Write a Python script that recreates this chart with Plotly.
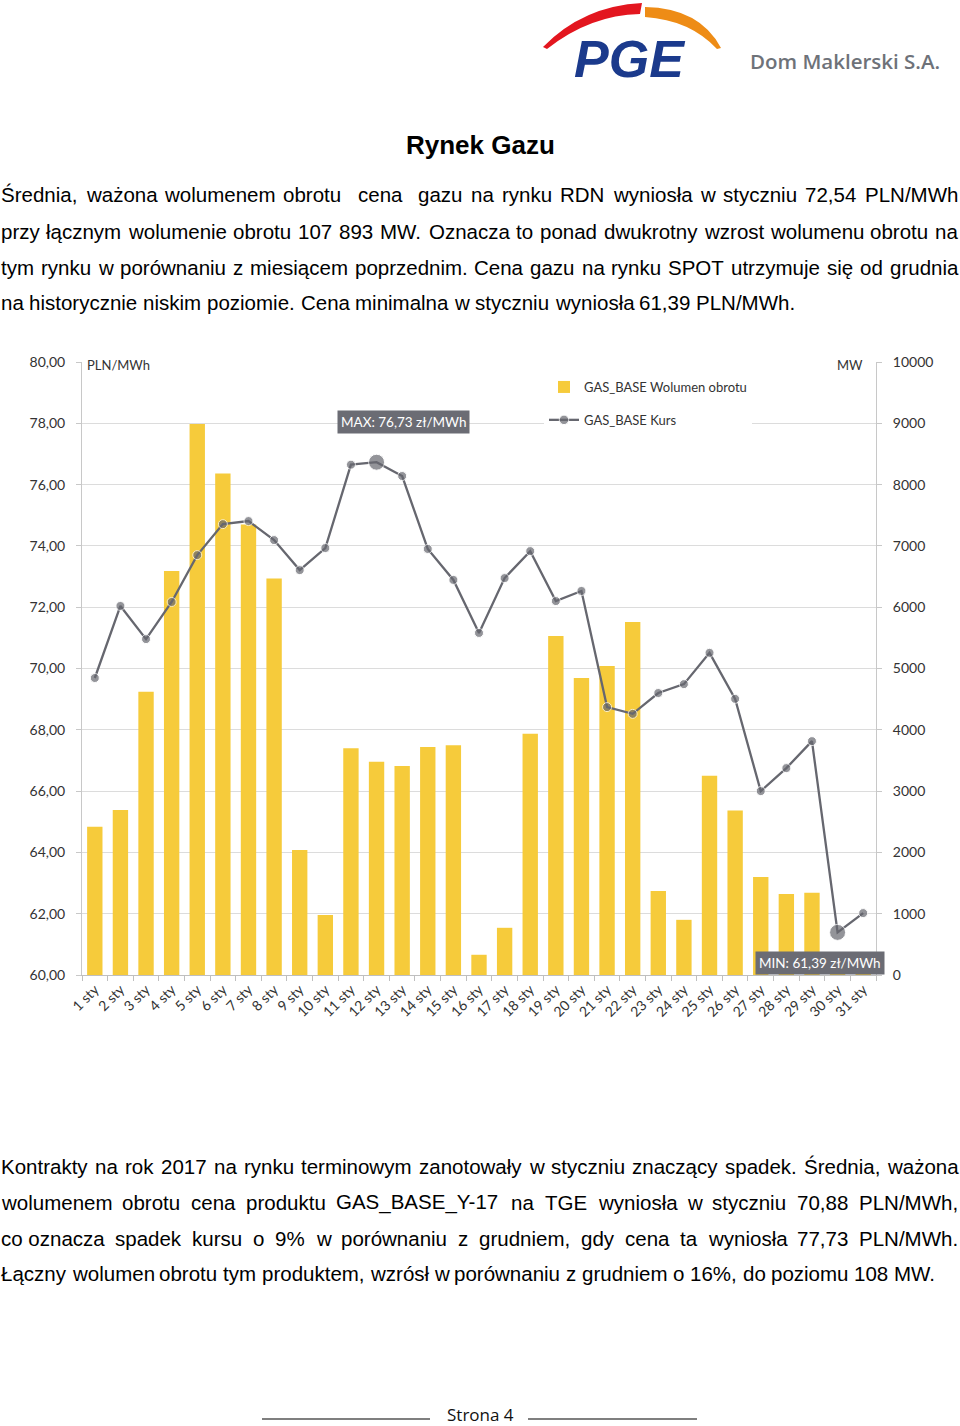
import plotly.graph_objects as go

# ---------------- data ----------------
days = ["1 sty", "2 sty", "3 sty", "4 sty", "5 sty", "6 sty", "7 sty", "8 sty", "9 sty", "10 sty",
        "11 sty", "12 sty", "13 sty", "14 sty", "15 sty", "16 sty", "17 sty", "18 sty", "19 sty", "20 sty",
        "21 sty", "22 sty", "23 sty", "24 sty", "25 sty", "26 sty", "27 sty", "28 sty", "29 sty", "30 sty",
        "31 sty"]
volume_mw = [2420, 2690, 4620, 6590, 8990, 8180, 7350, 6470, 2040, 980,
             3700, 3480, 3410, 3720, 3750, 330, 770, 3935, 5530, 4845,
             5040, 5760, 1370, 900, 3250, 2685, 1600, 1320, 1340, 300, 250]
price_pln = [69.69, 72.04, 70.96, 72.17, 73.70, 74.71, 74.81, 74.19, 73.21, 73.93,
             76.65, 76.73, 76.28, 73.90, 72.89, 71.16, 72.95, 73.83, 72.20, 72.53,
             68.74, 68.52, 69.20, 69.49, 70.51, 69.01, 66.00, 66.75, 67.63, 61.39, 62.02]
left_ticks = [60, 62, 64, 66, 68, 70, 72, 74, 76, 78, 80]
right_ticks = [0, 1000, 2000, 3000, 4000, 5000, 6000, 7000, 8000, 9000, 10000]

title_text = "Rynek Gazu"
para1 = [
    "Średnia, ważona wolumenem obrotu  cena  gazu na rynku RDN wyniosła w styczniu 72,54 PLN/MWh",
    "przy łącznym wolumenie obrotu 107 893 MW. Oznacza to ponad dwukrotny wzrost wolumenu obrotu na",
    "tym rynku w porównaniu z miesiącem poprzednim. Cena gazu na rynku SPOT utrzymuje się od grudnia",
    "na historycznie niskim poziomie. Cena minimalna w styczniu wyniosła 61,39 PLN/MWh.",
]
para2 = [
    "Kontrakty na rok 2017 na rynku terminowym zanotowały w styczniu znaczący spadek. Średnia, ważona",
    "wolumenem obrotu cena produktu GAS_BASE_Y-17 na TGE wyniosła w styczniu 70,88 PLN/MWh,",
    "co\u00a0oznacza spadek kursu o 9% w porównaniu z grudniem, gdy cena ta wyniosła 77,73 PLN/MWh.",
    "Łączny wolumen obrotu tym produktem, wzrósł w porównaniu z grudniem o 16%, do poziomu 108 MW.",
]

# ---------------- geometry helpers ----------------
W, H = 960, 1426
PL, PR, PT, PB = 82, 876, 362, 975  # plot area in pixels


def px(x):
    return (x - PL) / (PR - PL)


def py(y):
    return (PB - y) / (PB - PT)


def path(cmds):
    out = []
    for c in cmds:
        op, *pts = c
        s = op
        for i in range(0, len(pts), 2):
            s += f" {px(pts[i]):.5f},{py(pts[i+1]):.5f}"
        out.append(s)
    return " ".join(out) + " Z"


# Arial / Liberation Sans advance widths (per 1000 em)
AW = {' ': 278, '\u00a0': 278, ',': 278, '.': 278, '-': 333, '/': 278, '%': 889, '_': 556, ':': 278,
      'A': 667, 'B': 667, 'C': 722, 'D': 722, 'E': 667, 'F': 611, 'G': 778, 'H': 722, 'I': 278,
      'J': 500, 'K': 667, 'L': 556, 'M': 833, 'N': 722, 'O': 778, 'P': 667, 'Q': 778, 'R': 722,
      'S': 667, 'T': 611, 'U': 722, 'V': 667, 'W': 944, 'X': 667, 'Y': 667, 'Z': 611,
      'a': 556, 'b': 556, 'c': 500, 'd': 556, 'e': 556, 'f': 278, 'g': 556, 'h': 556, 'i': 222,
      'j': 222, 'k': 500, 'l': 222, 'm': 833, 'n': 556, 'o': 556, 'p': 556, 'q': 556, 'r': 333,
      's': 500, 't': 278, 'u': 556, 'v': 500, 'w': 722, 'x': 500, 'y': 500, 'z': 500,
      'ą': 556, 'ć': 500, 'ę': 556, 'ł': 222, 'ń': 556, 'ó': 556, 'ś': 500, 'ź': 500, 'ż': 500,
      'Ł': 556, 'Ś': 667, 'Ż': 611}
FS = 20.5
TXT_FONT = dict(family="Liberation Sans, Arial", size=FS, color="#000000")


def tw(s):
    return sum(AW.get(ch, 556) for ch in s) * FS / 1000


annotations = []


def add_line(line, y, justify, left=1, right=958):
    toks = line.split(' ')
    widths = [tw(t) for t in toks]
    nsp = len(toks) - 1
    gap = (right - left - sum(widths)) / nsp if justify else AW[' '] * FS / 1000
    x = float(left)
    for t, w in zip(toks, widths):
        if t:
            annotations.append(dict(xref="paper", yref="paper", x=px(x), y=py(y), text=t,
                                    xanchor="left", yanchor="middle", showarrow=False,
                                    borderpad=0, borderwidth=0, font=TXT_FONT))
        x += w + gap


for i, (ln, yy) in enumerate(zip(para1, [195, 231, 267, 302])):
    add_line(ln, yy, i < 3)
for i, (ln, yy) in enumerate(zip(para2, [1166, 1202, 1238, 1273])):
    add_line(ln, yy, i < 3)

# title
annotations.append(dict(xref="paper", yref="paper", x=px(480), y=py(145), text="<b>" + title_text + "</b>",
                        showarrow=False, xanchor="center", yanchor="middle",
                        font=dict(family="Liberation Sans, Arial", size=26, color="#000000")))

# logo text
annotations.append(dict(xref="paper", yref="paper", x=px(629), y=py(59), text="<b><i>PGE</i></b>",
                        showarrow=False, xanchor="center", yanchor="middle",
                        font=dict(family="Liberation Sans, Arial", size=52, color="#1B3A8C")))
annotations.append(dict(xref="paper", yref="paper", x=px(845), y=py(61), text="Dom Maklerski S.A.",
                        showarrow=False, xanchor="center", yanchor="middle",
                        font=dict(family="Open Sans", size=20.5, color="#6E7279", weight=600)))

# footer
annotations.append(dict(xref="paper", yref="paper", x=px(480), y=py(1414), text="Strona 4",
                        showarrow=False, xanchor="center", yanchor="middle",
                        font=dict(family="Open Sans", size=17, color="#111111")))

CH_FONT = dict(family="Lato, Open Sans", size=13, color="#333333")
TICK_FONT = dict(family="Lato, Open Sans", size=14, color="#333333")

# axis unit labels
annotations.append(dict(xref="paper", yref="paper", x=px(82), y=py(365), text="PLN/MWh",
                        showarrow=False, xanchor="left", yanchor="middle", bgcolor="white",
                        borderpad=4, font=CH_FONT))
annotations.append(dict(xref="paper", yref="paper", x=px(868), y=py(365), text="MW",
                        showarrow=False, xanchor="right", yanchor="middle", bgcolor="white",
                        borderpad=4, font=CH_FONT))

# MAX / MIN labels
LBL_BG = "#6B6C74"
annotations.append(dict(xref="paper", yref="paper", x=px(403), y=py(421.5), text="MAX: 76,73 zł/MWh",
                        showarrow=False, xanchor="center", yanchor="middle", bgcolor=LBL_BG,
                        borderpad=3, font=dict(family="Lato, Open Sans", size=13.5, color="white")))
annotations.append(dict(xref="paper", yref="paper", x=px(819.5), y=py(962.5), text="MIN: 61,39 zł/MWh",
                        showarrow=False, xanchor="center", yanchor="middle", bgcolor=LBL_BG,
                        borderpad=3, font=dict(family="Lato, Open Sans", size=13.5, color="white")))

shapes = [
    # red arc
    dict(type="path", xref="paper", yref="paper", line=dict(width=0), fillcolor="#E3161F",
         path=path([("M", 543, 47), ("Q", 583, 6, 642, 3), ("L", 640, 14), ("Q", 590, 15, 547, 49)])),
    # orange arc
    dict(type="path", xref="paper", yref="paper", line=dict(width=0), fillcolor="#EE8C16",
         path=path([("M", 645, 7), ("Q", 700, 8, 721, 48), ("L", 717, 49), ("Q", 690, 20, 645, 17)])),
    # footer lines
    dict(type="line", xref="paper", yref="paper", x0=px(262), x1=px(430), y0=py(1419), y1=py(1419),
         line=dict(color="#000000", width=1.2)),
    dict(type="line", xref="paper", yref="paper", x0=px(528), x1=px(697), y0=py(1419), y1=py(1419),
         line=dict(color="#000000", width=1.2)),
]

msize = [9] * len(price_pln)
msize[price_pln.index(max(price_pln))] = 16
msize[price_pln.index(min(price_pln))] = 16

LINE_C = "#66676F"
fig = go.Figure()
fig.add_trace(go.Bar(x=days, y=volume_mw, name="GAS_BASE Wolumen obrotu",
                     marker=dict(color="#F6CB3B", line=dict(width=0)),
                     yaxis="y", legendgroup="a", hoverinfo="skip"))
fig.add_trace(go.Scatter(x=days, y=price_pln, name="GAS_BASE Kurs", mode="lines+markers",
                         line=dict(color=LINE_C, width=2.3),
                         marker=dict(color=LINE_C, size=msize),
                         yaxis="y2", legendgroup="b", hoverinfo="skip", cliponaxis=False))

fig.update_layout(
    width=W, height=H,
    margin=dict(l=PL, r=W - PR, t=PT, b=H - PB, autoexpand=False),
    paper_bgcolor="white", plot_bgcolor="white",
    separators=", ",
    bargap=0.4,
    showlegend=True,
    legend=dict(x=px(544), y=py(372), xanchor="left", yanchor="top", bgcolor="white",
                traceorder="grouped", tracegroupgap=13, font=CH_FONT, borderwidth=0),
    xaxis=dict(type="category", range=[-0.5, len(days) - 0.5], showline=True, linecolor="#BFBFBF",
               linewidth=1, ticks="outside", tickson="boundaries", ticklen=5, tickcolor="#BFBFBF",
               tickangle=-45, tickfont=TICK_FONT, showgrid=False, zeroline=False),
    yaxis=dict(side="right", range=[0, 10000], tickvals=right_ticks, tickformat="d",
               showline=True, linecolor="#C8C8C8", ticks="outside", ticklen=5, tickcolor="#C8C8C8",
               showgrid=True, gridcolor="#DCDCDC", gridwidth=1, zeroline=False,
               tickfont=TICK_FONT, ticklabelstandoff=8),
    yaxis2=dict(side="left", overlaying="y", range=[60, 80], tickvals=left_ticks, tickformat=".2f",
                showline=True, linecolor="#C8C8C8", ticks="outside", ticklen=5, tickcolor="#C8C8C8",
                showgrid=False, zeroline=False, tickfont=TICK_FONT, ticklabelstandoff=8),
    annotations=annotations,
    shapes=shapes,
)

fig.write_html("out.html", config={"displayModeBar": False},
               post_script="document.body.style.margin='0';document.body.style.overflow='hidden';")
